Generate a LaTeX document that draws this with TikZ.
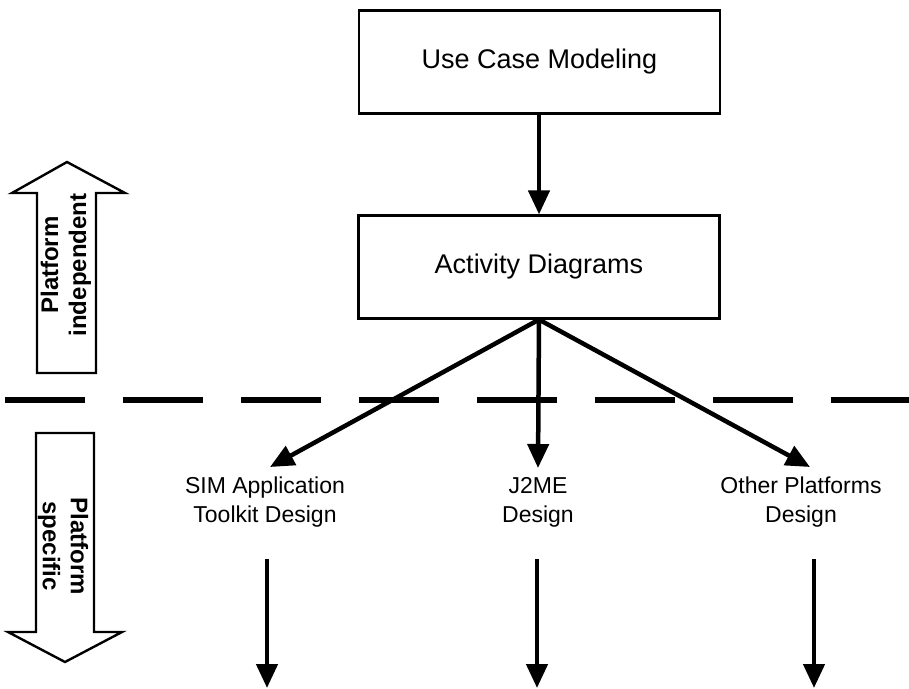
\documentclass[tikz,border=0pt]{standalone}
\usepackage{fontspec}
\setmainfont{Liberation Sans}
\usetikzlibrary{arrows.meta}
\begin{document}
\begin{tikzpicture}[x=1pt,y=-1pt,
  box/.style={draw, line width=2.2pt, minimum width=361pt, minimum height=103pt, inner sep=0pt, font=\fontsize{27}{32}\selectfont},
  lbl/.style={align=center, inner sep=0pt, font=\fontsize{23}{29}\selectfont},
  arr/.style={line width=4.5pt, -{Triangle[length=24pt,width=21pt]}},
  side/.style={line width=2.4pt, fill=white},
  sidetxt/.style={align=center, inner sep=0pt, font=\fontsize{24}{28}\selectfont\bfseries}]
\path[use as bounding box] (0,0) rectangle (909,688);
% boxes
\node[box] (uc) at (539.5,62) {Use Case Modeling};
\node[box] (ad) at (539,267) {Activity Diagrams};
% labels
\node[lbl] (sim) at (265,502) {SIM Application\\Toolkit Design};
\node[lbl] (j2me) at (538,502) {J2ME\\Design};
\node[lbl] (oth) at (801,502) {Other Platforms\\Design};
% dashed separator
\coordinate (dl) at (5,400);
\coordinate (dr) at (909,400);
\draw[line width=6pt, dash pattern=on 80pt off 38pt] (dl) -- (dr);
% connectors
\draw[arr] (uc.south -| ad.north) -- (ad.north);
\coordinate (t1) at (270,467);
\coordinate (t2) at (538,468);
\coordinate (t3) at (810,467);
\draw[arr] (ad.south) -- (t1);
\draw[arr] (ad.south) -- (t2);
\draw[arr] (ad.south) -- (t3);
\coordinate (s1) at (267,559);
\coordinate (e1) at (267,688);
\coordinate (s2) at (537,559);
\coordinate (e2) at (537,688);
\coordinate (s3) at (814,559);
\coordinate (e3) at (814,688);
\draw[arr] (s1) -- (e1);
\draw[arr] (s2) -- (e2);
\draw[arr] (s3) -- (e3);
% hollow side arrows
\draw[side, line join=miter] (37,373) -- (37,193) -- (12,193) -- (67,162) -- (125,193) -- (96,193) -- (96,373) -- cycle;
\node[sidetxt, rotate=90] (pi) at (66,265) {Platform\\independent};
\draw[side, line join=miter] (36,433) -- (36,632) -- (8,632) -- (65,662) -- (122,632) -- (94,632) -- (94,433) -- cycle;
\node[sidetxt, rotate=-90] (ps) at (63,546) {Platform\\specific};
\end{tikzpicture}
\end{document}
